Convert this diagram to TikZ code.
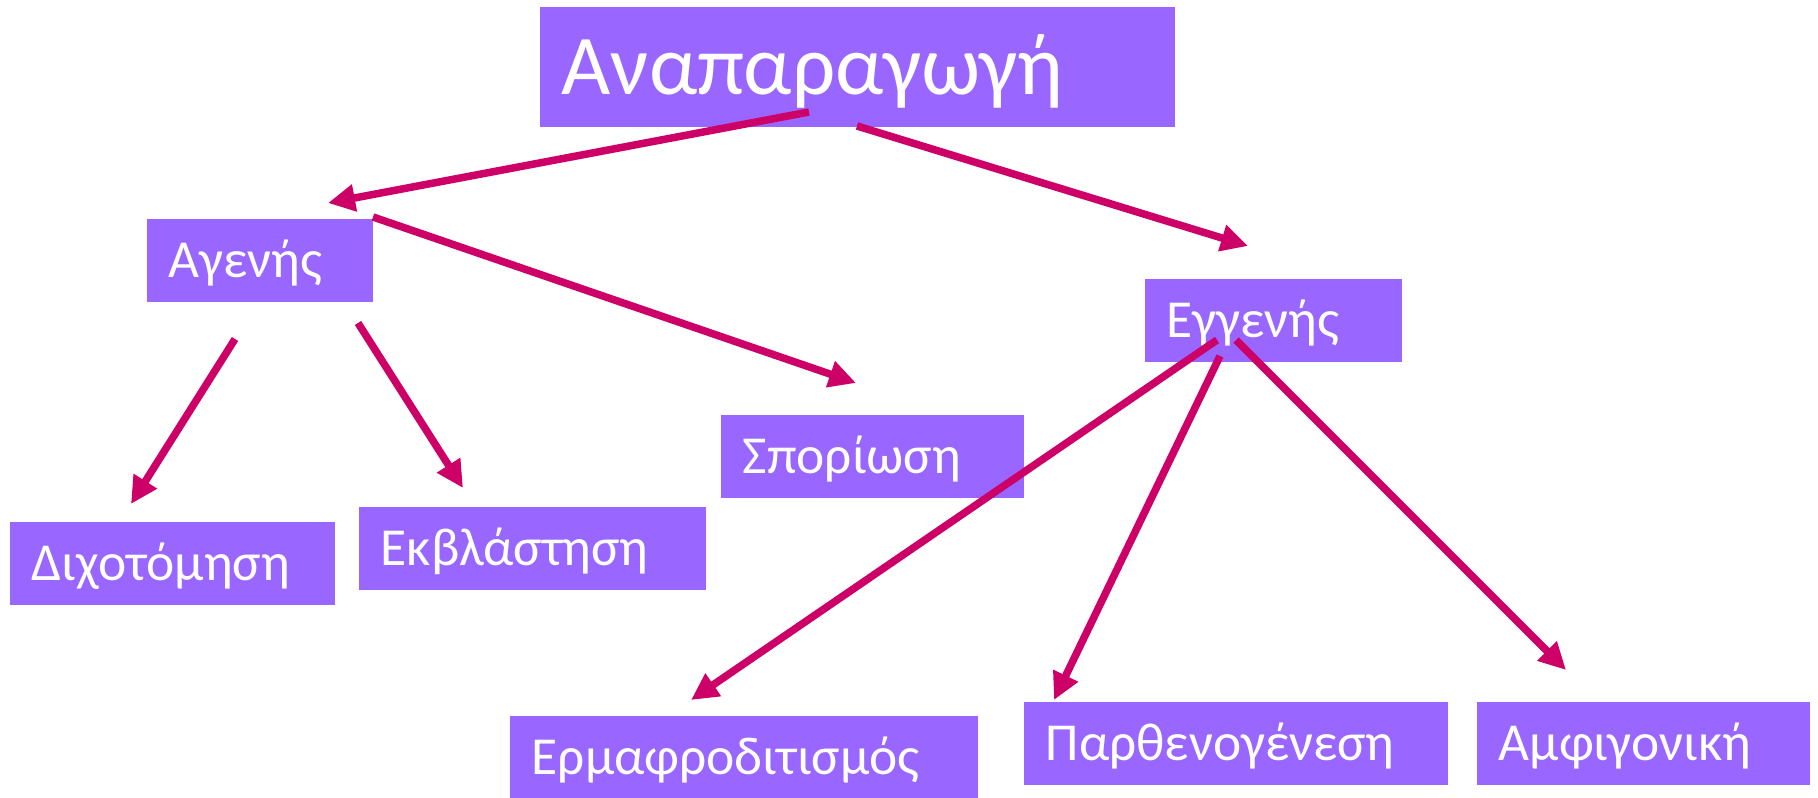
\documentclass[tikz,border=0pt]{standalone}
\usepackage{fontspec}
\setmainfont{Carlito}
\usetikzlibrary{arrows.meta}
\definecolor{boxviolet}{HTML}{9966FF}
\definecolor{arrowpink}{HTML}{CC0066}

\tikzset{
  box/.style={fill=boxviolet, text=white, anchor=north west, align=left,
    inner xsep=0.22cm, inner ysep=0pt, minimum height=0.83cm,
    font=\fontsize{15.2}{18}\selectfont, text height=0.35cm, text depth=0pt},
  bigbox/.style={box, minimum height=1.2cm,
    font=\fontsize{24.2}{28}\selectfont, text height=0.55cm},
  arr/.style={->, arrowpink, line width=0.075cm}
}

\begin{document}
\begin{tikzpicture}[x=0.01cm, y=-0.01cm, >={Triangle[length=0.27cm, width=0.26cm]}]
  \useasboundingbox (0,0) rectangle (1818,798);

  % boxes
  \node[bigbox, text width=5.91cm] (anaparagogi) at (539,6) {Αναπαραγωγή};
  \node[box, text width=1.82cm] (agenis) at (146,218) {Αγενής};
  \node[box, text width=2.13cm] (eggenis) at (1144,278) {Εγγενής};
  \node[box, text width=2.59cm] (sporiosi) at (720,414) {Σπορίωση};
  \node[box, text width=2.81cm] (dixotomisi) at (9,521) {Διχοτόμηση};
  \node[box, text width=3.03cm] (ekvlastisi) at (358,506) {Εκβλάστηση};
  \node[box, text width=4.24cm] (ermafro) at (509,715) {Ερμαφροδιτισμός};
  \node[box, text width=3.80cm] (partheno) at (1023,701) {Παρθενογένεση};
  \node[box, text width=2.89cm] (amfigoniki) at (1476,701) {Αμφιγονική};

  % arrow ends
  \coordinate (s1) at (809,112);  \coordinate (e1) at (328,203);
  \coordinate (s2) at (857,126);  \coordinate (e2) at (1248,246);
  \coordinate (s3) at (373,217);  \coordinate (e3) at (856,383);
  \coordinate (s4) at (235,339);  \coordinate (e4) at (131,504);
  \coordinate (s5) at (358,323);  \coordinate (e5) at (463,488);
  \coordinate (s6) at (1217,340); \coordinate (e6) at (691,700);
  \coordinate (s7) at (1220,356); \coordinate (e7) at (1054,700);
  \coordinate (s8) at (1236,340); \coordinate (e8) at (1566,670);

  \foreach \i in {1,...,8}
    \draw[arr] (s\i) -- (e\i);
\end{tikzpicture}
\end{document}
